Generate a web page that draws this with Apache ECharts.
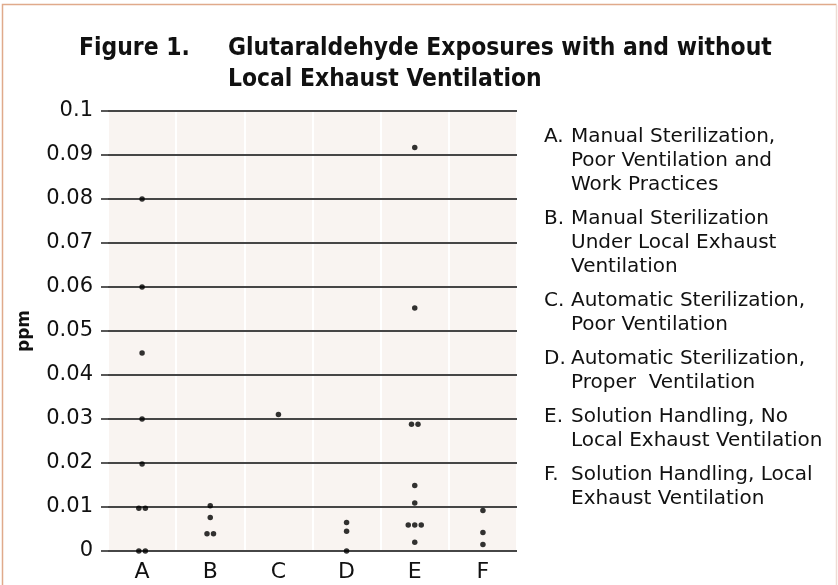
<!DOCTYPE html>
<html>
<head>
<meta charset="utf-8">
<script src="https://cdn.jsdelivr.net/npm/echarts@6/dist/echarts.min.js"></script>
<style>
  html, body { margin: 0; padding: 0; background: #fff; }
  #chart { width: 838px; height: 585px; }
</style>
</head>
<body>
<div id="chart"></div>
<script>
// categories and readings (ppm) per category
const categories = ['A', 'B', 'C', 'D', 'E', 'F'];
const valuesA = [0.08, 0.06, 0.045, 0.03, 0.0198, 0.0097, 0.0097, 0, 0];
const valuesB = [0.0103, 0.0076, 0.0039, 0.0039];
const valuesC = [0.031];
const valuesD = [0.0065, 0.0045, 0];
const valuesE = [0.0917, 0.0552, 0.0288, 0.0288, 0.0149, 0.0109, 0.0059, 0.0059, 0.0059, 0.002];
const valuesF = [0.0092, 0.0042, 0.0015];
const yTickLabels = ['0', '0.01', '0.02', '0.03', '0.04', '0.05', '0.06', '0.07', '0.08', '0.09', '0.1'];

// description of each category (right hand side)
const descriptions = [
    ['Manual Sterilization,', 'Poor Ventilation and', 'Work Practices'],
    ['Manual Sterilization', 'Under Local Exhaust', 'Ventilation'],
    ['Automatic Sterilization,', 'Poor Ventilation'],
    ['Automatic Sterilization,', 'Proper  Ventilation'],
    ['Solution Handling, No', 'Local Exhaust Ventilation'],
    ['Solution Handling, Local', 'Exhaust Ventilation']
];

const allValues = [valuesA, valuesB, valuesC, valuesD, valuesE, valuesF];

// points with identical values are put side by side
const scatterData = [];
allValues.forEach((vals, ci) => {
    const counts = {};
    vals.forEach(v => { counts[v] = (counts[v] || 0) + 1; });
    const seen = {};
    vals.forEach(v => {
        const n = counts[v];
        const k = seen[v] || 0;
        seen[v] = k + 1;
        const dx = (k - (n - 1) / 2) * 6.5;
        scatterData.push({ value: [categories[ci], v], symbolOffset: [dx, 0] });
    });
});

// legend text blocks
const textFont = 'DejaVu Sans';
const titleFont = "'Liberation Sans Narrow', 'DejaVu Sans Condensed', sans-serif";
const graphics = [];
let ty = 137;
descriptions.forEach((lines, i) => {
    graphics.push({
        type: 'text', left: 544, top: ty - 10,
        style: { text: categories[i] + '.', font: '20px ' + textFont, fill: '#111' }
    });
    lines.forEach((line, j) => {
        graphics.push({
            type: 'text', left: 571, top: ty - 10 + j * 24,
            style: { text: line, font: '20px ' + textFont, fill: '#111' }
        });
    });
    ty += (lines.length - 1) * 24 + 34;
});

// frame around the figure
graphics.push({
    type: 'polyline', silent: true,
    shape: { points: [[2.5, 590], [2.5, 4.5], [836.5, 4.5]] },
    style: { stroke: '#e0aa8b', lineWidth: 1.5, fill: null }
});
graphics.push({
    type: 'line', silent: true,
    shape: { x1: 836.5, y1: 5, x2: 836.5, y2: 590 },
    style: { stroke: '#eedcd3', lineWidth: 1.5 }
});

const chart = echarts.init(document.getElementById('chart'));
chart.setOption({
    backgroundColor: '#fff',
    animation: false,
    title: [
        {
            text: 'Figure 1.', left: 79, top: 33, padding: 0,
            textStyle: { fontFamily: titleFont, fontWeight: 'bold', fontSize: 24.4, lineHeight: 31, color: '#111' }
        },
        {
            text: 'Glutaraldehyde Exposures with and without\nLocal Exhaust Ventilation', left: 228, top: 33, padding: 0,
            textStyle: { fontFamily: titleFont, fontWeight: 'bold', fontSize: 24.4, lineHeight: 31, color: '#111' }
        }
    ],
    grid: { left: 108, right: 321, top: 111, bottom: 34, containLabel: false },
    xAxis: {
        type: 'category',
        data: categories,
        z: 0,
        axisLine: { show: false },
        axisTick: { show: false },
        axisLabel: { fontFamily: textFont, fontSize: 22, color: '#111', margin: 10 },
        splitArea: { show: true, areaStyle: { color: ['#f9f4f1'] } },
        splitLine: { show: true, lineStyle: { color: '#ffffff', width: 2 } }
    },
    yAxis: {
        type: 'value',
        min: 0, max: 0.1, interval: 0.01,
        z: 2,
        name: 'ppm',
        nameLocation: 'middle',
        nameGap: 75,
        nameTextStyle: { fontFamily: textFont, fontWeight: 'bold', fontSize: 17, color: '#111' },
        axisLine: { show: false },
        axisTick: { show: true, length: 7, lineStyle: { color: '#464646', width: 1.8 } },
        axisLabel: {
            fontFamily: textFont, fontSize: 21, color: '#111', margin: 15,
            formatter: (v, i) => yTickLabels[i]
        },
        splitLine: { show: true, lineStyle: { color: '#464646', width: 1.8 } }
    },
    series: [{
        type: 'scatter',
        data: scatterData,
        symbol: 'circle',
        symbolSize: 5.5,
        z: 4,
        itemStyle: { color: '#000' },
        clip: false
    }],
    graphic: graphics
});
</script>
</body>
</html>
